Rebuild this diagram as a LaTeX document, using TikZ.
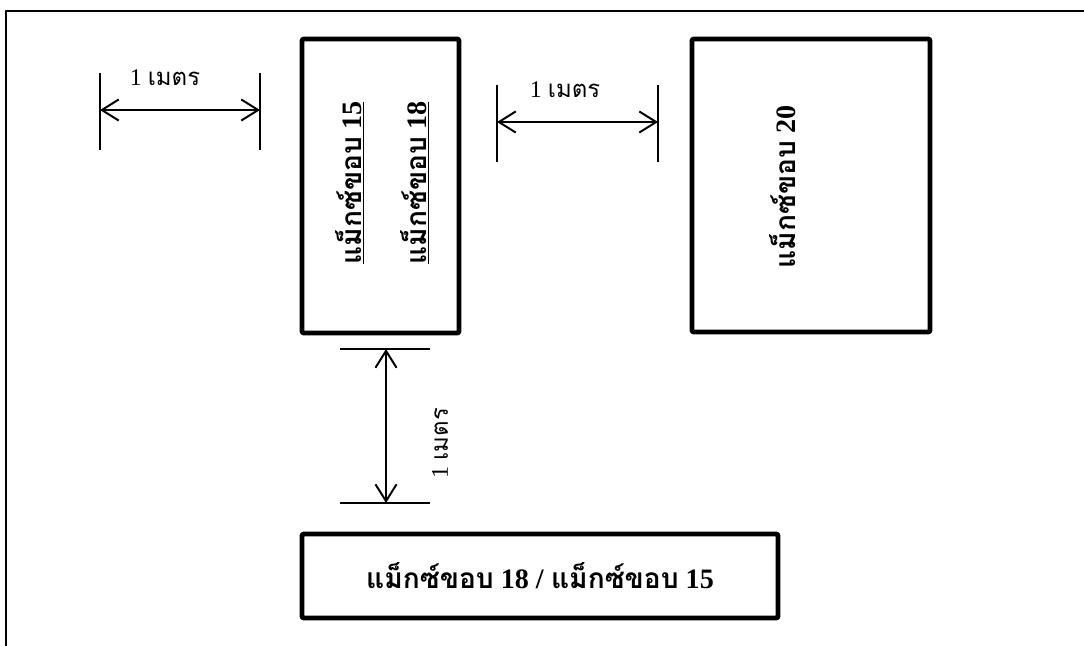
\documentclass[tikz,border=0pt]{standalone}
\usepackage{fontspec}
\setmainfont{Liberation Serif}
\newfontfamily\thaifont[Script=Thai]{Loma}
\usetikzlibrary{arrows.meta}

\newcommand{\metre}{1 {\thaifont เมตร}}
\newcommand{\maxedge}[1]{{\thaifont\bfseries แม็กซ์ขอบ} \textbf{#1}}

\tikzset{
  board/.style={draw, line width=3.4pt, rounded corners=1pt, inner sep=0pt},
  tick/.style={line width=1pt},
  span/.style={line width=1.4pt, {Straight Barb[length=12pt,width=15pt]}-{Straight Barb[length=12pt,width=15pt]}},
  lbl/.style={font=\fontsize{17}{20}\selectfont},
  boardtext/.style={font=\fontsize{20}{24}\selectfont}
}

\begin{document}
\begin{tikzpicture}[x=0.025cm, y=-0.025cm, line cap=butt, line join=round]
  \useasboundingbox (0,0) rectangle (1084,645);

  % Outer frame (runs off the page on the right and below)
  \draw[line width=2pt] (6,700) -- (6,11) -- (1200,11);

  % Boards
  \node[board, minimum width=3.925cm, minimum height=7.35cm] (max15) at (380.5,186) {};
  \node[board, minimum width=5.95cm, minimum height=7.325cm] (max20) at (811,185.5) {};
  \node[board, minimum width=11.9cm, minimum height=2.1cm] (maxlow) at (540,576) {};

  \node[boardtext, rotate=90] (t15) at (350,183) {\underline{\maxedge{15}}};
  \node[boardtext, rotate=90] (t18) at (415,183) {\underline{\maxedge{18}}};
  \node[boardtext, rotate=90] (t20) at (783,187) {\maxedge{20}};
  \node[boardtext] (tlow) at (maxlow.center) {\maxedge{18} \textbf{/} \maxedge{15}};

  % Gap left of first board
  \coordinate (a1) at (100,73);  \coordinate (a2) at (100,150);
  \coordinate (b1) at (260,73);  \coordinate (b2) at (260,150);
  \draw[tick] (a1) -- (a2);
  \draw[tick] (b1) -- (b2);
  \coordinate (aL) at (100,110); \coordinate (aR) at (260,110);
  \draw[span] (aL) -- (aR);
  \node[lbl] (m1) at (165,78) {\metre};

  % Gap between the two upper boards
  \coordinate (c1) at (497,85);  \coordinate (c2) at (497,162);
  \coordinate (d1) at (658,85);  \coordinate (d2) at (658,162);
  \draw[tick] (c1) -- (c2);
  \draw[tick] (d1) -- (d2);
  \coordinate (cL) at (497,122); \coordinate (cR) at (658,122);
  \draw[span] (cL) -- (cR);
  \node[lbl] (m2) at (565,90) {\metre};

  % Gap below first board
  \coordinate (e1) at (340,349); \coordinate (e2) at (430,349);
  \coordinate (f1) at (340,503); \coordinate (f2) at (430,503);
  \draw[tick] (e1) -- (e2);
  \draw[tick] (f1) -- (f2);
  \coordinate (eT) at (386,349); \coordinate (eB) at (386,503);
  \draw[span] (eT) -- (eB);
  \node[lbl, rotate=90] (m3) at (440,443) {\metre};
\end{tikzpicture}
\end{document}
